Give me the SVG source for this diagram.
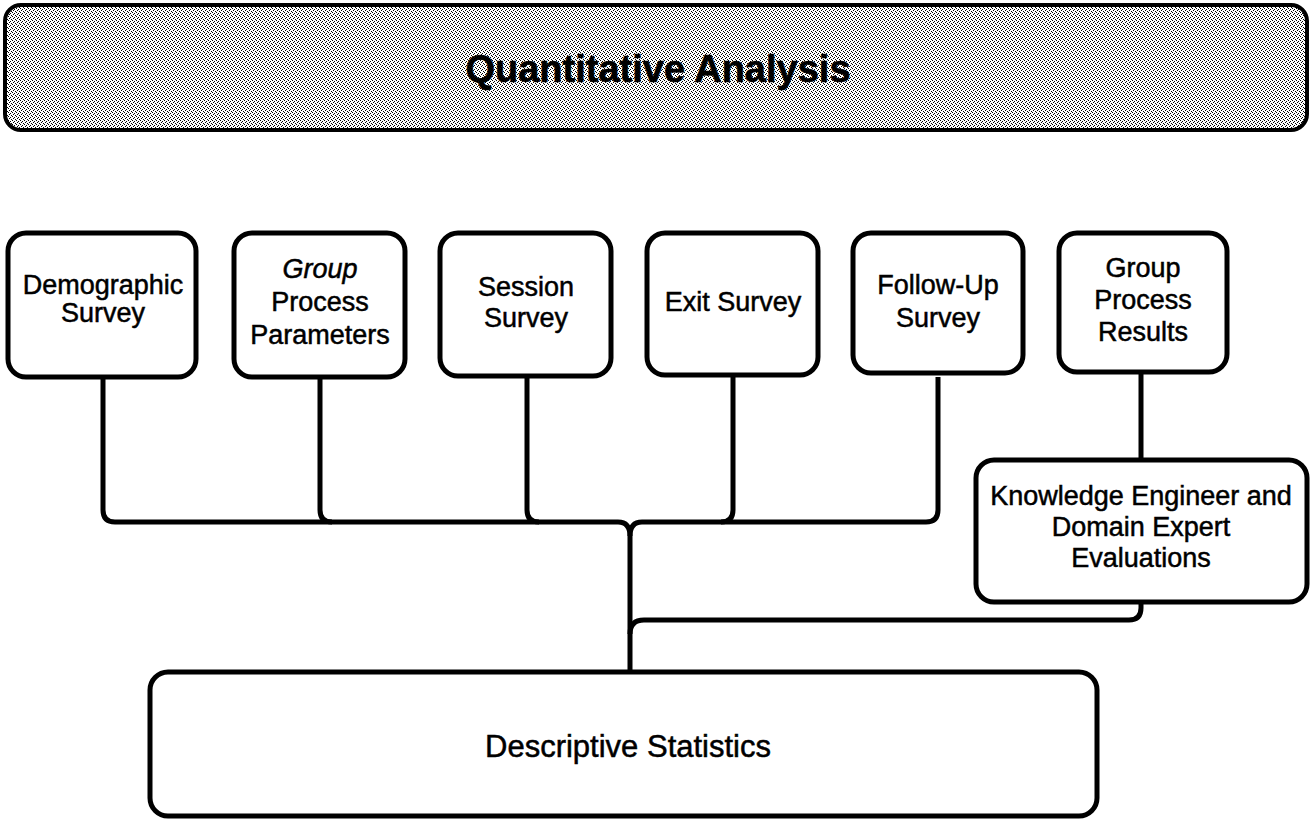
<svg xmlns="http://www.w3.org/2000/svg" width="1311" height="819" viewBox="0 0 1311 819">
  <style>
    .box { fill: #ffffff; stroke: #000000; stroke-width: 5; }
    .lbl { font-family: "Liberation Sans", Arial, sans-serif; font-size: 27px; fill: #000000; stroke: #000000; stroke-width: 0.5; text-anchor: middle; }
    .lbl-big { font-size: 31px; }
    .wire { fill: none; stroke: #000000; stroke-width: 5; stroke-linejoin: round; }
  </style>
  <defs>
    <!-- halftone screen for the banner -->
    <pattern id="screen" x="0" y="0" width="4" height="4" patternUnits="userSpaceOnUse">
      <rect width="4" height="4" fill="#ffffff"/>
      <rect x="0" y="0" width="1" height="1" fill="#000000"/>
      <rect x="2" y="1" width="1" height="1" fill="#000000"/>
      <rect x="1" y="2" width="1" height="1" fill="#000000"/>
      <rect x="3" y="3" width="1" height="1" fill="#000000"/>
    </pattern>
  </defs>
  <rect width="1311" height="819" fill="#ffffff"/>

  <!-- title banner -->
  <g id="header">
    <rect x="5" y="5" width="1302" height="125" rx="16" fill="url(#screen)" stroke="#000000" stroke-width="4"/>
    <text x="658" y="82" font-family="Liberation Sans, Arial, sans-serif" font-size="38" font-weight="bold" text-anchor="middle" stroke="#000000" stroke-width="0.6">Quantitative Analysis</text>
  </g>

  <!-- connectors -->
  <g id="connectors">
    <path class="wire" d="M103,377 V510 Q103,522 115,522 H618 Q630,522 630,536"/>
    <path class="wire" d="M320,377 V510 Q320,522 332,522"/>
    <path class="wire" d="M527,377 V510 Q527,522 539,522"/>
    <path class="wire" d="M733,377 V510 Q733,522 721,522"/>
    <path class="wire" d="M938,377 V510 Q938,522 926,522 H642 Q630,522 630,536 V672"/>
    <path class="wire" d="M1141,372 V460"/>
    <path class="wire" d="M1141,602 V608 Q1141,620 1129,620 H644 Q630,620 630,634"/>
  </g>

  <g id="demographic-survey">
    <rect class="box" x="8" y="233" width="188" height="144" rx="18"/>
    <text class="lbl" x="103" y="294">Demographic</text>
    <text class="lbl" x="103" y="322">Survey</text>
  </g>

  <g id="group-process-parameters">
    <rect class="box" x="234" y="233" width="171" height="144" rx="18"/>
    <text class="lbl" x="320" y="278" font-style="italic">Group</text>
    <text class="lbl" x="320" y="311">Process</text>
    <text class="lbl" x="320" y="344">Parameters</text>
  </g>

  <g id="session-survey">
    <rect class="box" x="440" y="233" width="171" height="143" rx="18"/>
    <text class="lbl" x="526" y="296">Session</text>
    <text class="lbl" x="526" y="327">Survey</text>
  </g>

  <g id="exit-survey">
    <rect class="box" x="647" y="233" width="171" height="142" rx="18"/>
    <text class="lbl" x="733" y="311">Exit Survey</text>
  </g>

  <g id="follow-up-survey">
    <rect class="box" x="853" y="233" width="170" height="140" rx="18"/>
    <text class="lbl" x="938" y="294">Follow-Up</text>
    <text class="lbl" x="938" y="327">Survey</text>
  </g>

  <g id="group-process-results">
    <rect class="box" x="1059" y="233" width="168" height="139" rx="18"/>
    <text class="lbl" x="1143" y="277">Group</text>
    <text class="lbl" x="1143" y="309">Process</text>
    <text class="lbl" x="1143" y="341">Results</text>
  </g>

  <g id="expert-evaluations">
    <rect class="box" x="976" y="460" width="331" height="142" rx="18"/>
    <text class="lbl" x="1141" y="505">Knowledge Engineer and</text>
    <text class="lbl" x="1141" y="536">Domain Expert</text>
    <text class="lbl" x="1141" y="567">Evaluations</text>
  </g>

  <g id="descriptive-statistics">
    <rect class="box" x="150" y="672" width="947" height="144" rx="18"/>
    <text class="lbl lbl-big" x="628" y="757">Descriptive Statistics</text>
  </g>
</svg>
